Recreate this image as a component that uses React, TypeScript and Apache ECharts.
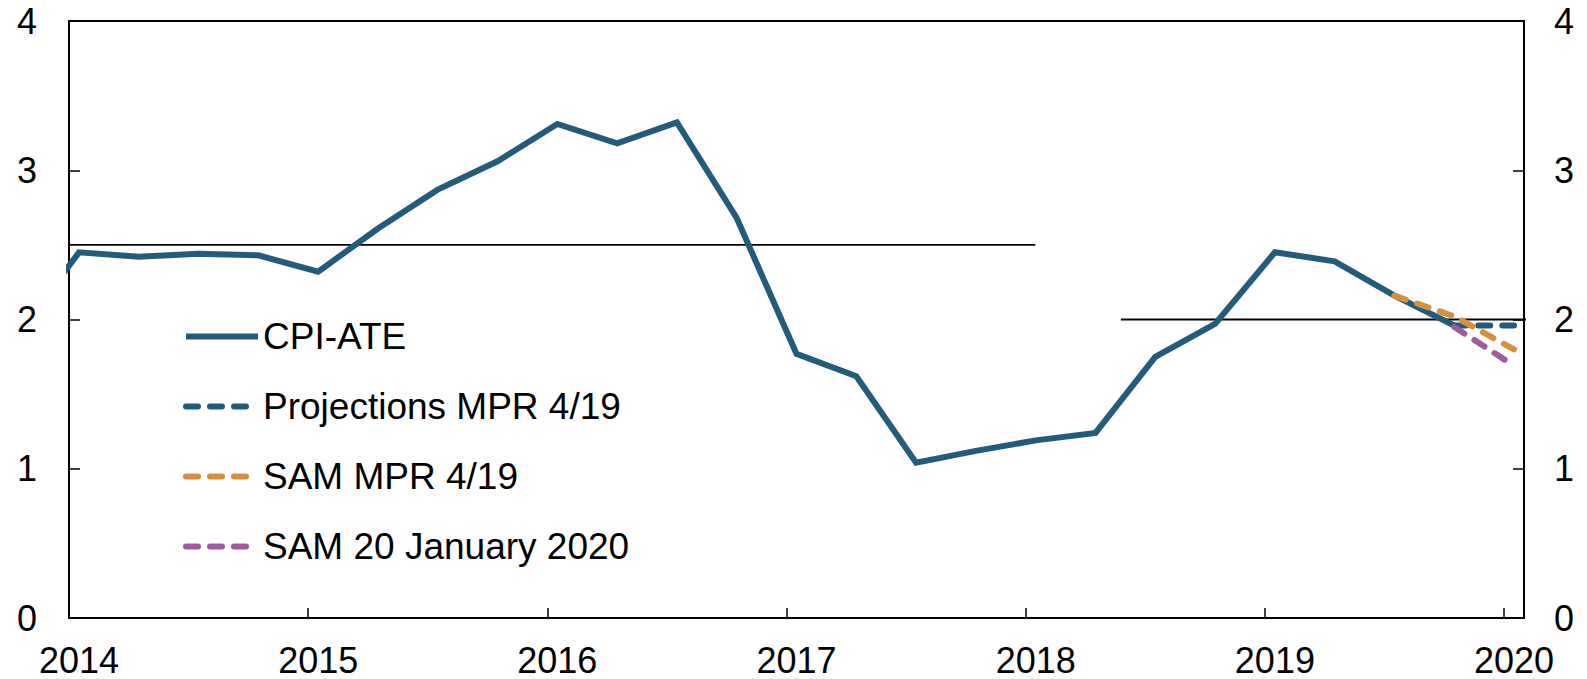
import React, { useEffect, useRef } from "react";
import * as echarts from "echarts";

// ---- Data (quarterly observations, plotted at mid-month) ----
const cpiDates = [
  "2013-10", "2014-01", "2014-04", "2014-07", "2014-10",
  "2015-01", "2015-04", "2015-07", "2015-10",
  "2016-01", "2016-04", "2016-07", "2016-10",
  "2017-01", "2017-04", "2017-07", "2017-10",
  "2018-01", "2018-04", "2018-07", "2018-10",
  "2019-01", "2019-04", "2019-07", "2019-10",
];
const cpiValues = [
  1.91, 2.45, 2.42, 2.44, 2.43,
  2.32, 2.61, 2.87, 3.06,
  3.31, 3.18, 3.32, 2.68,
  1.77, 1.62, 1.04, 1.12,
  1.19, 1.24, 1.75, 1.97,
  2.45, 2.39, 2.16, 1.96,
];

const projDates = ["2019-10", "2020-01"];
const projValues = [1.96, 1.96];

const samMprDates = ["2019-07", "2019-10", "2020-01"];
const samMprValues = [2.16, 2.02, 1.8];

const samJanDates = ["2019-10", "2020-01"];
const samJanValues = [1.95, 1.69];

// Inflation targets
const targetOldDates = ["2013-10-16", "2018-01-16"];
const targetOldValues = [2.5, 2.5];
const targetNewDates = ["2018-05-25", "2020-03-01"];
const targetNewValues = [2, 2];

const yearLabels = ["2014", "2015", "2016", "2017", "2018", "2019", "2020"];
const yTicks = [0, 1, 2, 3, 4];

const seriesNames = [
  "CPI-ATE",
  "Projections MPR 4/19",
  "SAM MPR 4/19",
  "SAM 20 January 2020",
];

// months since 1 Jan 2014; "YYYY-MM" -> mid month, "YYYY-MM-DD" -> that day
function toX(d: string): number {
  const parts = d.split("-").map(Number);
  const base = (parts[0] - 2014) * 12 + (parts[1] - 1);
  if (parts.length === 3) return base + (parts[2] - 1) / 31;
  return base + 0.5;
}
function pairs(dates: string[], vals: number[]) {
  return dates.map((d, i) => [toX(d), vals[i]]);
}

const FONT = "'Liberation Sans', Arial, sans-serif";
const BLUE = "#235b7b";
const ORANGE = "#d4913f";
const PURPLE = "#9c5c9f";

export default function App() {
  const ref = useRef<HTMLDivElement>(null);
  useEffect(() => {
    if (!ref.current) return;
    const chart = echarts.init(ref.current, undefined, { renderer: "svg" });
    const axisLine = { show: true, lineStyle: { color: "#000", width: 2 } };
    const yAxisCommon = {
      type: "value" as const,
      min: yTicks[0],
      max: yTicks[yTicks.length - 1],
      interval: 1,
      axisLine,
      axisTick: { show: true, inside: true, length: 11, lineStyle: { color: "#000", width: 1.5 } },
      splitLine: { show: false },
      axisLabel: { color: "#000", fontSize: 36, fontFamily: FONT },
    };
    const dashed = (color: string) => ({
      color,
      width: 6,
      type: [12, 12] as number[],
      cap: "round" as const,
    });
    chart.setOption({
      animation: false,
      grid: {
        left: 69,
        right: 63,
        top: 21,
        bottom: 61,
        show: true,
        borderColor: "#000",
        borderWidth: 2,
        backgroundColor: "transparent",
      },
      legend: {
        data: seriesNames,
        orient: "vertical",
        left: 183,
        top: 318,
        padding: 0,
        itemWidth: 72,
        itemHeight: 36,
        itemGap: 33,
        lineStyle: { width: 6 },
        itemStyle: { opacity: 0 },
        textStyle: { color: "#000", fontSize: 37, fontFamily: FONT },
        selectedMode: false,
      },
      xAxis: {
        type: "value",
        min: 0,
        max: 73,
        interval: 12,
        axisLine,
        axisTick: { show: true, inside: true, length: 10, lineStyle: { color: "#000", width: 1.5 } },
        splitLine: { show: false },
        axisLabel: {
          color: "#000",
          fontSize: 36,
          fontFamily: FONT,
          margin: 24,
          padding: [0, 0, 0, 20],
          formatter: (v: number) => {
            const i = Math.round(v / 12);
            return Math.abs(v - i * 12) < 1e-6 && yearLabels[i] ? yearLabels[i] : "";
          },
        },
      },
      yAxis: [
        { ...yAxisCommon, position: "left", axisLabel: { ...yAxisCommon.axisLabel, margin: 32 } },
        { ...yAxisCommon, position: "right", axisLabel: { ...yAxisCommon.axisLabel, margin: 30 } },
      ],
      series: [
        {
          name: "target-old",
          type: "line",
          data: pairs(targetOldDates, targetOldValues),
          symbol: "none",
          lineStyle: { color: "#000", width: 1.8 },
          silent: true,
        },
        {
          name: "target-new",
          type: "line",
          data: pairs(targetNewDates, targetNewValues),
          symbol: "none",
          lineStyle: { color: "#000", width: 1.8 },
          silent: true,
        },
        {
          name: seriesNames[0],
          type: "line",
          data: pairs(cpiDates, cpiValues),
          symbol: "none",
          color: BLUE,
          lineStyle: { color: BLUE, width: 6, join: "miter" },
        },
        {
          name: seriesNames[1],
          type: "line",
          data: pairs(projDates, projValues),
          symbol: "none",
          color: BLUE,
          lineStyle: dashed(BLUE),
        },
        {
          name: seriesNames[3],
          type: "line",
          data: pairs(samJanDates, samJanValues),
          symbol: "none",
          color: PURPLE,
          lineStyle: dashed(PURPLE),
        },
        {
          name: seriesNames[2],
          type: "line",
          data: pairs(samMprDates, samMprValues),
          symbol: "none",
          color: ORANGE,
          lineStyle: dashed(ORANGE),
        },
      ],
    });
    return () => chart.dispose();
  }, []);
  return (
    <div
      ref={ref}
      style={{ position: "fixed", left: 0, top: 0, width: 1587, height: 679, background: "#fff" }}
    />
  );
}
